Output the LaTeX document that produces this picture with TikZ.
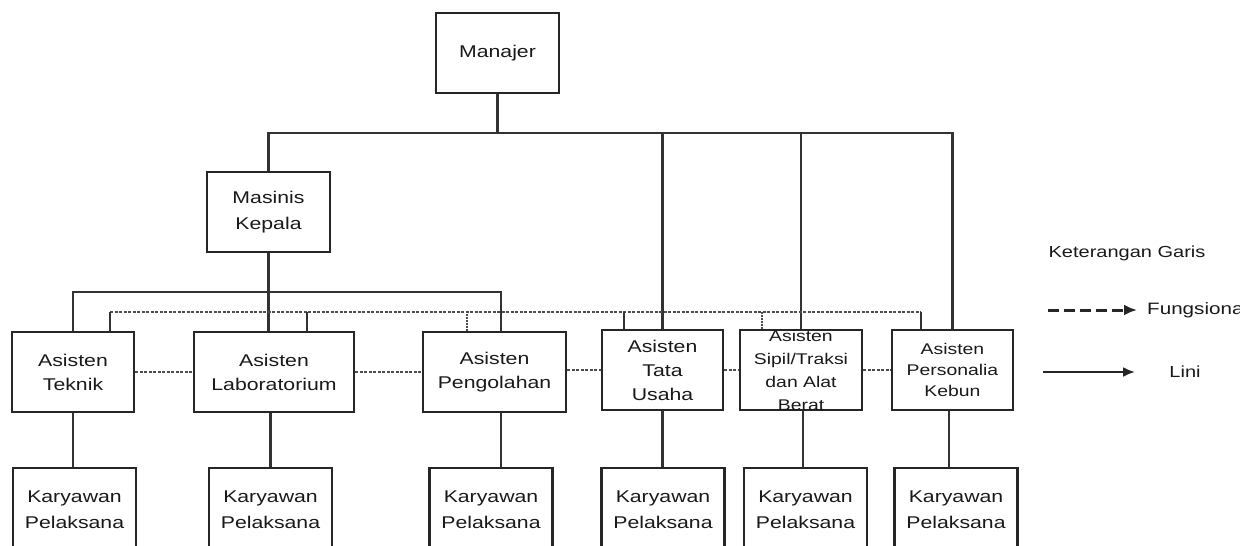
\documentclass[tikz,border=0pt]{standalone}
\usepackage{fontspec}
\setmainfont{Liberation Sans}[FakeStretch=1.25]
\usetikzlibrary{arrows.meta}

\begin{document}
\begin{tikzpicture}[x=1pt,y=-1pt,
  box/.style={draw=black!85, line width=2.6pt, minimum height=80pt, inner sep=0pt, align=center, text=black!90, font=\fontsize{17}{24}\selectfont},
  txt/.style={align=center, text=black!90, inner sep=0pt},
  lini/.style={black!80, line width=2.2pt},
  fungsi/.style={black!70, line width=2pt, dash pattern=on 3pt off 1.5pt},
  titik/.style={black!70, line width=2pt, dash pattern=on 1.5pt off 1.5pt}]
\useasboundingbox (0,0) rectangle (1240,546);
\node[box, minimum width=123pt] (man) at (497.5,53) {Manajer};
\node[box, minimum width=123pt, font=\fontsize{17}{26}\selectfont] (mk) at (268.5,212) {Masinis\\Kepala};
\node[box, minimum width=122pt] (tek) at (73,372) {Asisten\\Teknik};
\node[box, minimum width=160pt] (lab) at (274,372) {Asisten\\Laboratorium};
\node[box, minimum width=143pt] (pen) at (494.5,372) {Asisten\\Pengolahan};
\node[box, minimum width=121pt] (tu) at (662.5,370) {Asisten\\Tata\\Usaha};
\node[box, minimum width=122pt] (sip) at (801,370) {};
\node[txt, font=\fontsize{15.5}{23}\selectfont] (sipt) at (sip) {Asisten\\Sipil/Traksi\\dan Alat\\Berat};
\node[box, minimum width=121pt, font=\fontsize{15.5}{21}\selectfont] (per) at (952.5,370) {Asisten\\Personalia\\Kebun};
\foreach \n/\x in {1/74.5, 2/270.5, 3/491, 4/663, 5/805.5, 6/956}
  \node[box, minimum width=123pt, minimum height=84pt, font=\fontsize{17}{26}\selectfont] (kar\n) at (\x,510) {Karyawan\\Pelaksana};
\coordinate (atas) at (0,133);
\coordinate (tengah) at (0,292);
\coordinate (fung) at (0,312);
\draw[lini] (man.south) -- (man.south |- atas);
\draw[lini] (mk.north) -- (mk.north |- atas) -- (per.north |- atas) -- (per.north);
\draw[lini] (tu.north) -- (tu.north |- atas);
\draw[lini] (sip.north) -- (sip.north |- atas);
\draw[lini] (mk.south) -- (mk.south |- lab.north);
\draw[lini] (tek.north) -- (tek.north |- tengah) -- ([xshift=6.5pt]pen.north |- tengah) -- ([xshift=6.5pt]pen.north);
\draw[fungsi] ([xshift=37pt]tek.north |- fung) -- ([xshift=-31.5pt]per.north |- fung);
\foreach \nd/\dx in {tek/37, lab/33, tu/-38.5, per/-31.5}
  \draw[lini] ([xshift=\dx pt]\nd.north) -- ([xshift=\dx pt]\nd.north |- fung);
\foreach \nd/\dx in {pen/-27.5, sip/-39}
  \draw[titik] ([xshift=\dx pt]\nd.north) -- ([xshift=\dx pt]\nd.north |- fung);
\draw[fungsi] (tek.east) -- (lab.west);
\draw[fungsi] (lab.east) -- (pen.west);
\draw[fungsi] (pen.east |- tu.west) -- (tu.west);
\draw[fungsi] (tu.east) -- (sip.west);
\draw[fungsi] (sip.east) -- (per.west);
\draw[lini] (tek.south) -- (tek.south |- kar1.north);
\draw[lini] (kar2.north) -- (kar2.north |- lab.south);
\draw[lini] ([xshift=6.5pt]pen.south) -- ([xshift=6.5pt]pen.south |- kar3.north);
\draw[lini] (tu.south) -- (tu.south |- kar4.north);
\draw[lini] ([xshift=2pt]sip.south) -- ([xshift=2pt]sip.south |- kar5.north);
\draw[lini] ([xshift=-3.5pt]per.south) -- ([xshift=-3.5pt]per.south |- kar6.north);
\node[txt, font=\fontsize{16}{18}\selectfont] (ket) at (1127,253) {Keterangan Garis};
\node[txt, anchor=west, font=\fontsize{16.5}{18}\selectfont] (fungsional) at (1147,310) {Fungsional};
\node[txt, font=\fontsize{16}{18}\selectfont] (linitxt) at (1185,372) {Lini};
\coordinate (fa) at (1048,310);
\coordinate (la) at (1043,372);
\draw[black!85, line width=3pt, dash pattern=on 11pt off 5pt, -{Latex[length=13pt,width=11pt]}] (fa) -- ([xshift=-10pt]fungsional.west);
\draw[black!85, line width=2.2pt, -{Latex[length=12pt,width=10pt]}] (la) -- (la -| 1135,0);
\end{tikzpicture}
\end{document}
